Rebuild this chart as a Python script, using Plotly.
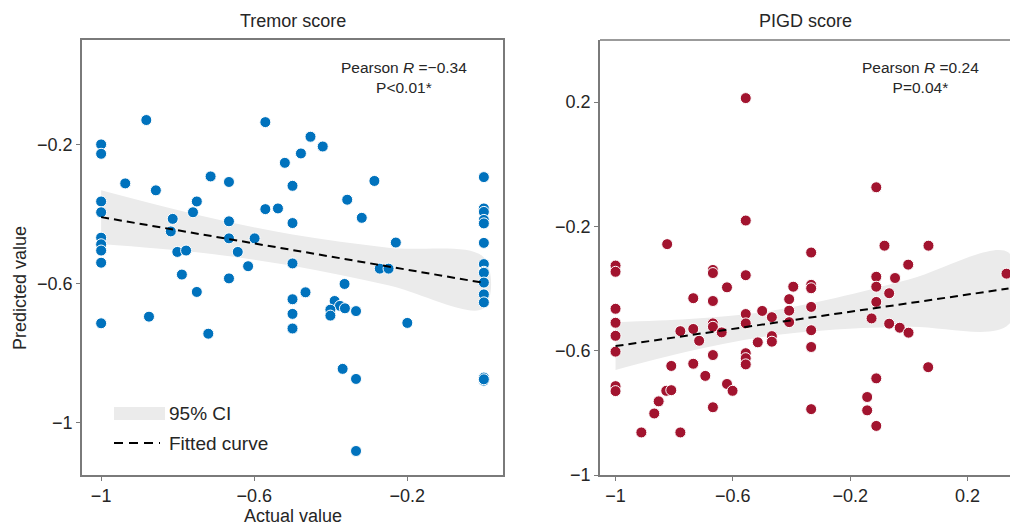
import plotly.graph_objects as go

# ---------------- data: Tremor score ----------------
tremor_actual = [-1, -1, -0.882, -0.937, -0.857, -1, -1, -1, -1, -1, -1,
                 -0.813, -0.818, -0.801, -0.778, -0.789, -0.760, -0.750, -0.714,
                 -0.666, -0.666, -0.666, -0.666, -0.643, -0.616, -0.599, -0.571,
                 -0.571, -0.538, -0.520, -0.500, -0.500, -0.500, -0.478, -0.453,
                 -0.421, -0.357, -0.319, -0.286, -0.230, -0.272, -0.249,
                 0, 0, 0, 0, 0, 0, 0, 0, 0, 0, 0, 0, 0, 0, 0,
                 -1, -0.875, -0.750, -0.720, -0.500, -0.500, -0.500, -0.466,
                 -0.390, -0.376, -0.363, -0.401, -0.401, -0.364, -0.334,
                 -0.369, -0.334, -0.334, -0.200]
tremor_pred = [-0.200, -0.227, -0.130, -0.312, -0.332, -0.364, -0.395, -0.468, -0.487, -0.505, -0.540,
               -0.414, -0.450, -0.509, -0.505, -0.574, -0.395, -0.364, -0.292,
               -0.308, -0.421, -0.470, -0.585, -0.509, -0.550, -0.470, -0.136,
               -0.386, -0.384, -0.253, -0.319, -0.426, -0.542, -0.226, -0.178,
               -0.206, -0.359, -0.411, -0.305, -0.482, -0.557, -0.557,
               -0.294, -0.384, -0.394, -0.417, -0.427, -0.483, -0.544, -0.566, -0.569,
               -0.597, -0.631, -0.654, -0.870, -0.879, -0.875,
               -0.714, -0.695, -0.624, -0.744, -0.645, -0.687, -0.729, -0.625,
               -0.650, -0.664, -0.671, -0.675, -0.692, -0.601, -0.679,
               -0.845, -0.874, -1.081, -0.713]
tremor_fit_x = [-1, -0.75, -0.5, -0.25, 0]
tremor_fit_y = [-0.409, -0.456, -0.504, -0.551, -0.598]
tremor_ci_half = [0.077, 0.054, 0.045, 0.054, 0.073]

# ---------------- data: PIGD score ----------------
pigd_actual = [-0.556, -0.556, -0.111, -1, -1, -0.824, -0.668, -0.668, -0.556,
               -0.333, -0.083, 0.067, -0.002, -0.111, -0.047, 0.333,
               -1, -1, -1, -1, -1, -1, -0.912, -0.868, -0.853, -0.827, -0.810,
               -0.810, -0.779, -0.779, -0.735, -0.735, -0.735, -0.715, -0.694,
               -0.668, -0.668, -0.668, -0.668, -0.668, -0.638, -0.620, -0.620,
               -0.601, -0.556, -0.556, -0.556, -0.556, -0.556, -0.515, -0.500,
               -0.467, -0.467, -0.467, -0.408, -0.408, -0.408, -0.394, -0.333,
               -0.333, -0.333, -0.333, -0.333, -0.333, -0.127, -0.111, -0.111,
               -0.111, -0.142, -0.142, -0.111, -0.067, -0.067, -0.031, -0.001, 0.066]
pigd_pred = [0.213, -0.181, -0.074, -0.326, -0.346, -0.257, -0.340, -0.350, -0.357,
             -0.284, -0.262, -0.262, -0.323, -0.362, -0.366, -0.352,
             -0.465, -0.510, -0.552, -0.603, -0.714, -0.730, -0.863, -0.802, -0.763, -0.729, -0.727,
             -0.649, -0.537, -0.863, -0.431, -0.530, -0.642, -0.568, -0.681,
             -0.440, -0.512, -0.523, -0.614, -0.782, -0.541, -0.396, -0.707,
             -0.729, -0.482, -0.512, -0.608, -0.624, -0.644, -0.573, -0.472,
             -0.492, -0.553, -0.571, -0.434, -0.471, -0.508, -0.394, -0.388,
             -0.399, -0.459, -0.534, -0.588, -0.788, -0.496, -0.394, -0.443,
             -0.689, -0.749, -0.792, -0.842, -0.415, -0.513, -0.526, -0.542, -0.653]
pigd_fit_x = [-1, -0.75, -0.5, -0.25, 0, 0.34]
pigd_fit_y = [-0.585, -0.550, -0.516, -0.481, -0.447, -0.400]
pigd_ci_half = [0.077, 0.052, 0.040, 0.051, 0.076, 0.116]

x_ticks_left = [-1, -0.6, -0.2]
y_ticks_left = [-1, -0.6, -0.2]
x_ticks_right = [-1, -0.6, -0.2, 0.2]
y_ticks_right = [-1, -0.6, -0.2, 0.2]

BLUE = "#0072BD"
RED = "#A2142F"
CI_COLOR = "#ebebeb"
AXIS_COLOR = "#7a7a7a"
TEXT = "#262626"
FONT = "Liberation Sans"


def fmt(v):
    s = ("%g" % v)
    return s.replace("-", "\u2212")


fig = go.Figure()


def add_panel(xa, ya, actual, pred, fx, fy, hw, color):
    upper = [y + h for y, h in zip(fy, hw)]
    lower = [y - h for y, h in zip(fy, hw)]
    fig.add_trace(go.Scatter(
        x=fx + fx[::-1], y=upper + lower[::-1], fill="toself",
        fillcolor=CI_COLOR, line=dict(width=0, color=CI_COLOR, shape="spline"),
        mode="lines", hoverinfo="skip", showlegend=False, xaxis=xa, yaxis=ya))
    fig.add_trace(go.Scatter(
        x=actual, y=pred, mode="markers",
        marker=dict(size=11, color=color, line=dict(width=1, color="white")),
        showlegend=False, xaxis=xa, yaxis=ya))
    fig.add_trace(go.Scatter(
        x=fx, y=fy, mode="lines",
        line=dict(color="black", width=2, dash="8px,5px"),
        showlegend=False, xaxis=xa, yaxis=ya))


add_panel("x", "y", tremor_actual, tremor_pred, tremor_fit_x, tremor_fit_y, tremor_ci_half, BLUE)
add_panel("x2", "y2", pigd_actual, pigd_pred, pigd_fit_x, pigd_fit_y, pigd_ci_half, RED)

axis_common = dict(showgrid=False, zeroline=False, showline=True, linecolor=AXIS_COLOR,
                   linewidth=1.5, ticks="outside", ticklen=4, tickcolor=AXIS_COLOR,
                   tickfont=dict(size=18, color=TEXT, family=FONT))

W, H = 1010, 527
L0, R0, T0, B0 = 82, 503, 40, 475
fig.update_layout(
    width=W, height=537, autosize=False, margin=dict(l=0, r=0, t=0, b=0),
    paper_bgcolor="white", plot_bgcolor="white",
    font=dict(family=FONT, color=TEXT),
    xaxis=dict(domain=[L0 / W, R0 / W], range=[-1.05, 0.05], mirror=True,
               tickvals=x_ticks_left, ticktext=[fmt(v) for v in x_ticks_left], **axis_common),
    yaxis=dict(domain=[1 - B0 / H, 1 - T0 / H], range=[-1.15, 0.1], mirror=True,
               tickvals=y_ticks_left, ticktext=[fmt(v) for v in y_ticks_left], **axis_common),
    xaxis2=dict(domain=[600 / W, 1.0], range=[-1.053, 0.345], anchor="y2",
                tickvals=x_ticks_right, ticktext=[fmt(v) for v in x_ticks_right], **axis_common),
    yaxis2=dict(domain=[1 - B0 / H, 1 - T0 / H], range=[-1.0, 0.4], anchor="x2",
                tickvals=y_ticks_right, ticktext=[fmt(v) for v in y_ticks_right], **axis_common),
)

PW, PH = R0 - L0, B0 - T0


def dx(px):
    return (px - L0) / PW


def dy(py):
    return (B0 - py) / PH


shapes = [
    dict(type="line", xref="x2 domain", yref="y2 domain", x0=0, x1=1, y0=1, y1=1,
         line=dict(color=AXIS_COLOR, width=1.5)),
    dict(type="rect", xref="x domain", yref="y domain",
         x0=dx(114), x1=dx(165), y0=dy(420), y1=dy(407),
         fillcolor=CI_COLOR, line=dict(width=0)),
    dict(type="line", xref="x domain", yref="y domain",
         x0=dx(114), x1=dx(160), y0=dy(443), y1=dy(443),
         line=dict(color="black", width=2, dash="9px,6px")),
]

annotations = [
    dict(text="Tremor score", x=(L0 + R0) / 2 / W, y=1 - 21 / H, xref="paper", yref="paper",
         showarrow=False, font=dict(size=18, color=TEXT), xanchor="center", yanchor="middle"),
    dict(text="PIGD score", x=805 / W, y=1 - 21 / H, xref="paper", yref="paper",
         showarrow=False, font=dict(size=18, color=TEXT), xanchor="center", yanchor="middle"),
    dict(text="Predicted value", x=20 / W, y=1 - 288 / H, xref="paper", yref="paper",
         showarrow=False, textangle=-90, font=dict(size=18, color=TEXT),
         xanchor="center", yanchor="middle"),
    dict(text="Actual value", x=(L0 + R0) / 2 / W, y=1 - 516 / H, xref="paper", yref="paper",
         showarrow=False, font=dict(size=18, color=TEXT), xanchor="center", yanchor="middle"),
    dict(text="Pearson <i>R</i> =\u22120.34<br>P<0.01*", x=404 / W, y=1 - 77 / H,
         xref="paper", yref="paper", showarrow=False, align="center",
         font=dict(size=15.5, color=TEXT), xanchor="center", yanchor="middle"),
    dict(text="Pearson <i>R</i> =0.24<br>P=0.04*", x=920 / W, y=1 - 77 / H,
         xref="paper", yref="paper", showarrow=False, align="center",
         font=dict(size=15.5, color=TEXT), xanchor="center", yanchor="middle"),
    dict(text="95% CI", x=dx(167), y=dy(413), xref="x domain", yref="y domain",
         showarrow=False, font=dict(size=19, color=TEXT), xanchor="left", yanchor="middle"),
    dict(text="Fitted curve", x=dx(167), y=dy(443), xref="x domain", yref="y domain",
         showarrow=False, font=dict(size=19, color=TEXT), xanchor="left", yanchor="middle"),
]
fig.update_layout(shapes=shapes, annotations=annotations)

fig.write_html("out.html", config={"responsive": False, "displayModeBar": False},
               post_script="document.body.style.margin='0';")
